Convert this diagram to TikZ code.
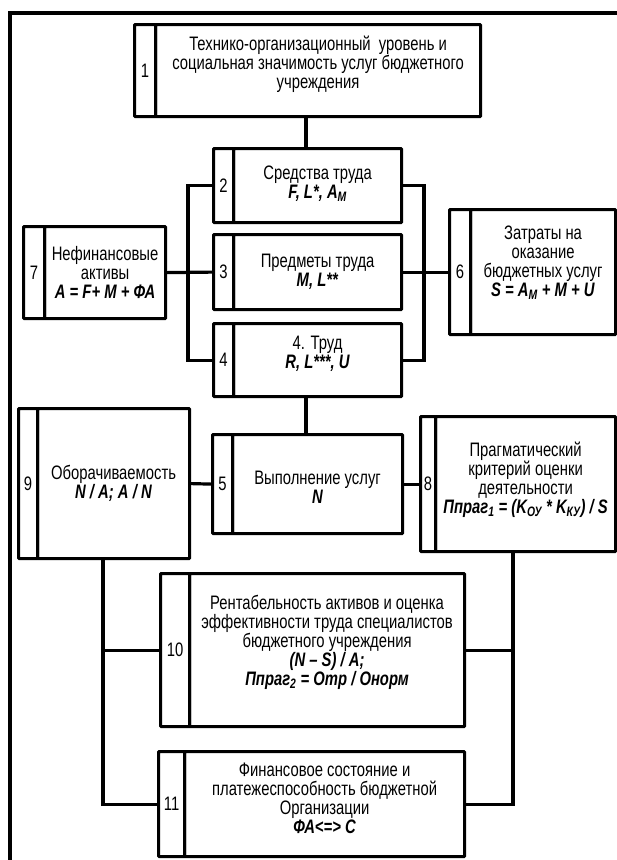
\documentclass[tikz,border=0pt]{standalone}
\usepackage{fontspec}
\setmainfont{Liberation Sans}[FakeStretch=0.76]
\usepackage{tikz}

\begin{document}
\begin{tikzpicture}[x=1pt,y=-1pt,line width=3.2pt,
    numbox/.style={draw,rounded corners=0.8pt,inner sep=0pt,anchor=north west,
      font=\fontsize{19.5}{19}\selectfont},
    txtbox/.style={draw,rounded corners=0.8pt,anchor=north west},
    txt/.style={align=center,inner sep=0pt,font=\fontsize{19.5}{19}\selectfont}]
    \def\fm#1{\textbf{\textit{#1}}}
    % name, number, left, top, divider, right, bottom, text lift, text
    \def\blk#1#2#3#4#5#6#7#8#9{%
      \node[numbox,minimum width={#5-#3},minimum height={#7-#4}] (#1n) at (#3,#4) {#2};
      \node[txtbox,minimum width={#6-#5},minimum height={#7-#4}] (#1) at (#5,#4) {};
      \node[txt] (#1t) at ([yshift=#8pt]#1.center) {#9};
      \coordinate (#1c) at ({(#3+#6)/2},{(#4+#7)/2});}
    \useasboundingbox (0,0) rectangle (617,860);
    \draw[line width=4.5pt] (10,860) -- (10,13) -- (617,13);

    \blk{b1}{1}{133}{23}{154}{479}{115}{6}{Технико-организационный\ \ уровень и\\социальная значимость услуг бюджетного\\учреждения}
    \blk{b2}{2}{212}{147}{232}{400}{221}{2}{Средства труда\\\fm{F, L*, A\textsubscript{M}}}
    \blk{b3}{3}{212}{233}{232}{400}{308}{0}{Предметы труда\\\fm{M, L**}}
    \blk{b4}{4}{212}{322}{232}{400}{395}{6}{4. Труд\\\fm{R, L***, U}}
    \blk{b5}{5}{211}{433}{231}{401}{532}{-3}{Выполнение услуг\\\fm{N}}
    \blk{b6}{6}{448}{208}{469}{614}{333}{9}{Затраты на\\оказание\\бюджетных услуг\\\fm{S = A\textsubscript{M} + M + U}}
    \blk{b7}{7}{22}{225}{43}{164}{317}{0}{Нефинансовые\\активы\\\fm{A = F+ M + ФА}}
    \blk{b8}{8}{419}{415}{434}{614}{550}{4}{Прагматический\\критерий оценки\\деятельности\\\fm{Ппраг\textsubscript{1} = (K\textsubscript{ОУ} * K\textsubscript{КУ}) / S}}
    \blk{b9}{9}{17}{407}{36}{188}{557}{0}{Оборачиваемость\\\fm{N / A; A / N}}
    \blk{b10}{10}{159}{572}{188}{463}{725}{8}{Рентабельность активов и оценка\\эффективности труда специалистов\\бюджетного учреждения\\\fm{(N – S) / A;}\\\fm{Ппраг\textsubscript{2} = Отр / Онорм}}
    \blk{b11}{11}{157}{750}{183}{463}{855}{6}{Финансовое состояние и\\платежеспособность бюджетной\\Организации\\\fm{ФА<=> С}}

    \coordinate (busL) at (188,0);
    \coordinate (busR) at (424,0);
    \coordinate (lowL) at (103,0);
    \coordinate (lowR) at (513,0);
    \draw (b1c |- b1.south) -- (b2c |- b2.north);
    \draw (b2n.west) -| (busL |- b3n.west) |- (b4n.west);
    \draw (b2.east) -| (busR |- b3.east) |- (b4.east);
    \draw (b7.east) -- (b3n.west);
    \draw (b3.east) -- (b6n.west);
    \draw (b4c |- b4.south) -- (b5c |- b5.north);
    \draw (b9.east) -- (b5n.west);
    \draw (b5.east) -- (b8n.west);
    \draw (b9.south -| lowL) |- (b11n.west) (lowL |- b10n.west) -- (b10n.west);
    \draw (b8.south -| lowR) |- (b11.east) (lowR |- b10.east) -- (b10.east);
\end{tikzpicture}
\end{document}
